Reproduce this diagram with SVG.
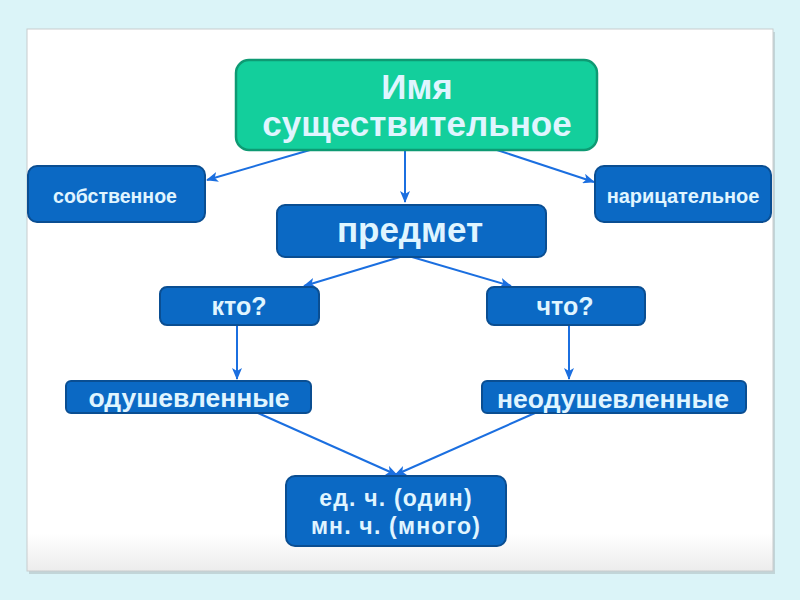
<svg xmlns="http://www.w3.org/2000/svg" width="800" height="600" viewBox="0 0 800 600">
<style>
.b{fill:#0b69c4;stroke:#0a4e92;stroke-width:2}
.t{fill:#e0f5ff;font-family:"Liberation Sans",Arial,sans-serif;font-weight:bold;text-anchor:middle}
.c line{stroke:#1b6fe0;stroke-width:2;marker-end:url(#a)}
</style>
<defs>
<marker id="a" markerWidth="12" markerHeight="10" refX="11" refY="5" orient="auto" markerUnits="userSpaceOnUse"><path d="M0,0 L12,5 L0,10 L3,5 Z" fill="#1b6fe0"/></marker>
<linearGradient id="sh" x1="0" y1="0" x2="0" y2="1"><stop offset="0.93" stop-color="#fff"/><stop offset="1" stop-color="#ececec"/></linearGradient>
</defs>
<rect width="800" height="600" fill="#dbf4f8"/>
<rect x="29" y="32" width="746" height="542" fill="#a9b5b7" opacity="0.5"/>
<rect x="27" y="29" width="746" height="542" fill="url(#sh)" stroke="#c8cccd" stroke-width="1"/>
<g class="c">
<line x1="310" y1="150" x2="207" y2="180"/>
<line x1="405" y1="150" x2="405" y2="202"/>
<line x1="497" y1="150" x2="594" y2="182"/>
<line x1="400" y1="257" x2="304" y2="286"/>
<line x1="412" y1="257" x2="511" y2="286"/>
<line x1="237" y1="325" x2="237" y2="379"/>
<line x1="569" y1="325" x2="569" y2="379"/>
<line x1="258" y1="413" x2="397" y2="475"/>
<line x1="535" y1="413" x2="395" y2="475"/>
</g>
<g id="imya"><rect x="236" y="60" width="361" height="90" rx="13" fill="#13cf9c" stroke="#0e9a73" stroke-width="2.5"/>
<text class="t" x="417" y="99" font-size="35" fill="#e6fffb">Имя</text>
<text class="t" x="417" y="136" font-size="35">существительное</text></g>
<g id="sobstv"><rect class="b" x="28" y="166" width="177" height="56" rx="9"/><text class="t" x="115" y="203" font-size="19.5">собственное</text></g>
<g id="narits"><rect class="b" x="595" y="166" width="176" height="56" rx="9"/><text class="t" x="683" y="203" font-size="20">нарицательное</text></g>
<g id="predmet"><rect class="b" x="277" y="205" width="269" height="52" rx="8"/><text class="t" x="410" y="242" font-size="35">предмет</text></g>
<g id="kto"><rect class="b" x="160" y="287" width="159" height="38" rx="7"/><text class="t" x="239" y="315" font-size="25">кто?</text></g>
<g id="chto"><rect class="b" x="487" y="287" width="158" height="38" rx="7"/><text class="t" x="565" y="315" font-size="25">что?</text></g>
<g id="odush"><rect class="b" x="66" y="381" width="245" height="32" rx="5"/><text class="t" x="189" y="407" font-size="26.5">одушевленные</text></g>
<g id="neodush"><rect class="b" x="482" y="381" width="264" height="32" rx="5"/><text class="t" x="613" y="408" font-size="26.5">неодушевленные</text></g>
<g id="chislo"><rect class="b" x="286" y="476" width="220" height="70" rx="9"/>
<text class="t" x="396" y="506" font-size="23" letter-spacing="1.2">ед. ч. (один)</text>
<text class="t" x="396" y="534" font-size="23" letter-spacing="1.2">мн. ч. (много)</text></g>
</svg>
